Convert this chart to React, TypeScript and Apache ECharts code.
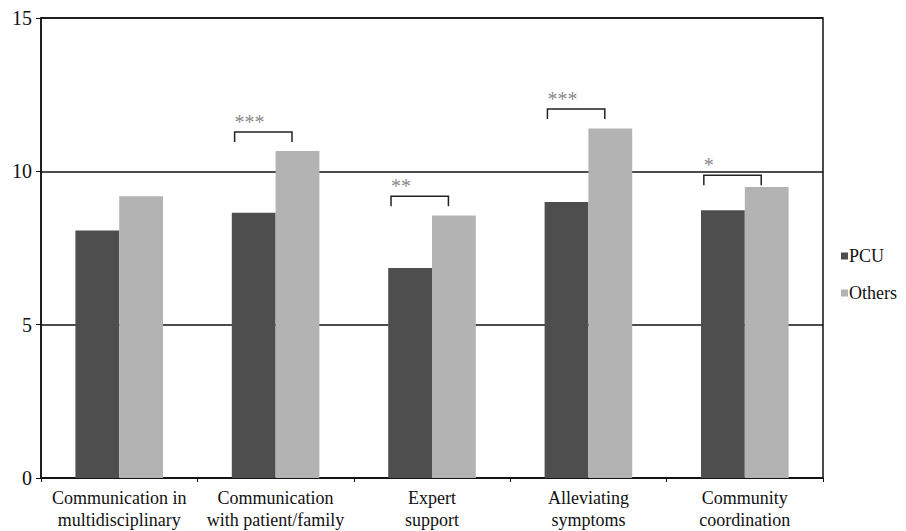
import React, { useEffect, useRef } from "react";
import * as echarts from "echarts";

const categories = [
  "Communication in\nmultidisciplinary",
  "Communication\nwith patient/family",
  "Expert\nsupport",
  "Alleviating\nsymptoms",
  "Community\ncoordination",
];
const pcuValues = [8.07, 8.65, 6.85, 9.0, 8.73];
const othersValues = [9.19, 10.66, 8.56, 11.4, 9.49];
const bracketLevels = [null, 11.28, 9.19, 12.03, 9.87];
const significance = ["", "***", "**", "***", "*"];
const yTicks = [0, 5, 10, 15];

const FONT = "Liberation Serif";

export default function App() {
  const ref = useRef<HTMLDivElement>(null);
  useEffect(() => {
    if (!ref.current) return;
    const chart = echarts.init(ref.current, undefined, { renderer: "svg" });
    const bracketData = bracketLevels
      .map((lvl, i) => (lvl == null ? null : [i, lvl]))
      .filter((d) => d !== null);
    chart.setOption({
      animation: false,
      backgroundColor: "#ffffff",
      textStyle: { fontFamily: FONT },
      grid: {
        left: 41,
        right: 83,
        top: 18,
        bottom: 53,
        show: true,
        borderColor: "#111",
        borderWidth: 1.5,
        backgroundColor: "transparent",
      },
      legend: {
        orient: "vertical",
        left: 836,
        top: 241,
        itemWidth: 7,
        itemHeight: 7,
        itemGap: 17,
        icon: "rect",
        textStyle: {
          fontFamily: FONT,
          fontSize: 18,
          color: "#111",
          lineHeight: 20,
          padding: [0, 0, 0, -4],
        },
        data: ["PCU", "Others"],
      },
      xAxis: {
        type: "category",
        data: categories,
        axisLine: { show: true, lineStyle: { color: "#111", width: 1.5 } },
        axisTick: { show: true, length: 4, lineStyle: { color: "#111", width: 1 } },
        axisLabel: {
          fontFamily: FONT,
          fontSize: 18,
          color: "#111",
          lineHeight: 22,
          margin: 9,
          interval: 0,
        },
        splitLine: { show: false },
      },
      yAxis: {
        type: "value",
        min: 0,
        max: 15,
        interval: 5,
        axisLine: { show: true, lineStyle: { color: "#111", width: 1.5 } },
        axisTick: { show: true, length: 5, lineStyle: { color: "#111", width: 1 } },
        axisLabel: {
          fontFamily: FONT,
          fontSize: 20,
          color: "#111",
          margin: 9,
          formatter: (v: number) => (yTicks.includes(v) ? String(v) : ""),
        },
        splitLine: { show: true, lineStyle: { color: "#111", width: 1.5 } },
      },
      series: [
        {
          name: "PCU",
          type: "bar",
          data: pcuValues,
          barGap: "0%",
          barCategoryGap: "44%",
          itemStyle: { color: "#4e4e4e" },
        },
        {
          name: "Others",
          type: "bar",
          data: othersValues,
          barGap: "0%",
          barCategoryGap: "44%",
          itemStyle: { color: "#b3b3b3" },
        },
        {
          name: "sig",
          type: "custom",
          data: bracketData,
          z: 10,
          renderItem: (params: any, api: any) => {
            const idx = api.value(0);
            const lvl = api.value(1);
            const label = significance[idx];
            const p = api.coord([idx, lvl]);
            const bw = api.size([1, 0])[0];
            const x1 = p[0] - 0.262 * bw;
            const x2 = p[0] + 0.105 * bw;
            const y = p[1];
            return {
              type: "group",
              children: [
                {
                  type: "polyline",
                  shape: {
                    points: [
                      [x1, y + 10],
                      [x1, y],
                      [x2, y],
                      [x2, y + 10],
                    ],
                  },
                  style: { stroke: "#222", lineWidth: 1.5, fill: null },
                },
                {
                  type: "text",
                  x: x1,
                  y: y - 10,
                  style: {
                    text: label,
                    fontFamily: FONT,
                    fontSize: 20,
                    fill: "#8a8a8a",
                    align: "left",
                    verticalAlign: "middle",
                  },
                },
              ],
            };
          },
        },
      ],
    });
    return () => chart.dispose();
  }, []);
  return (
    <div
      ref={ref}
      style={{ position: "fixed", left: 0, top: 0, width: "100vw", height: "100vh" }}
    />
  );
}
